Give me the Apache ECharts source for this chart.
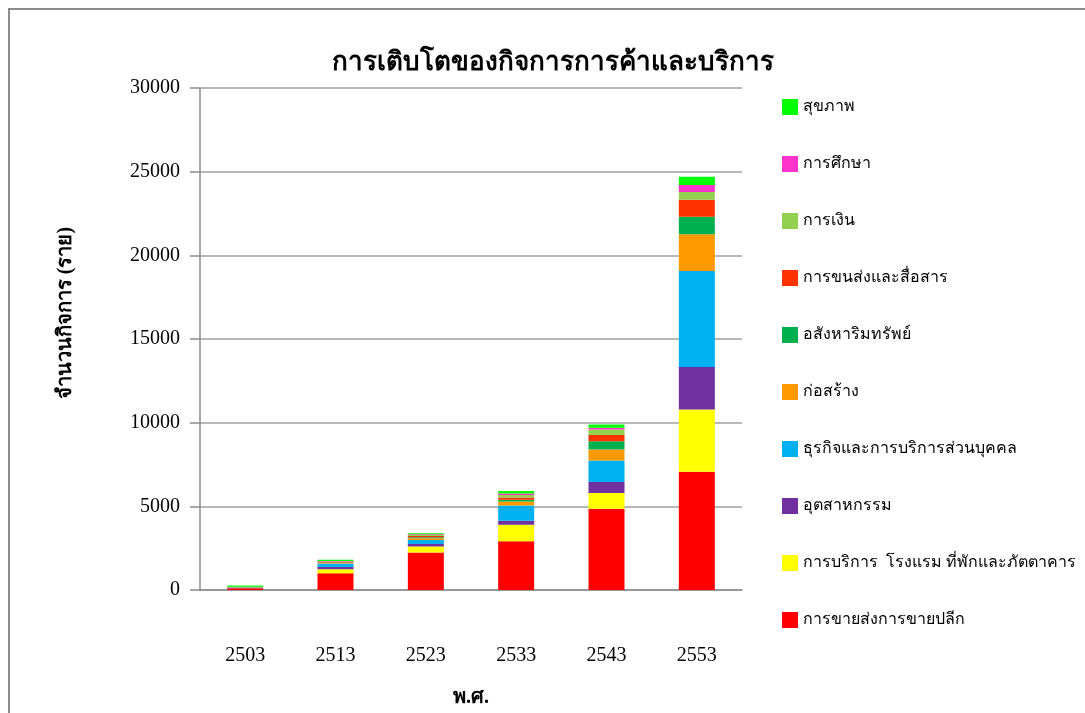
<!DOCTYPE html>
<html>
<head>
<meta charset="utf-8">
<script src="https://cdn.jsdelivr.net/npm/echarts@6/dist/echarts.min.js"></script>
<style>
  html, body { margin: 0; padding: 0; background: #fff; }
  #frame { position: absolute; left: 8px; top: 8px; width: 1090px; height: 720px; border: 2px solid #8c8c8c; box-sizing: border-box; }
  #chart { position: absolute; left: 0; top: 0; width: 1085px; height: 713px; }
</style>
</head>
<body>
<div id="frame"></div>
<div id="chart"></div>
<script>
  // ปี พ.ศ.
  const years = ['2503', '2513', '2523', '2533', '2543', '2553']

  // จำนวนกิจการ (ราย) แต่ละประเภท
  const retail = [100, 1000, 2240, 2920, 4850, 7070]
  const hotel = [10, 240, 360, 980, 950, 3720]
  const industry = [10, 140, 150, 240, 650, 2540]
  const service = [10, 200, 240, 910, 1290, 5730]
  const construction = [10, 40, 100, 240, 650, 2200]
  const realEstate = [10, 30, 60, 100, 500, 1050]
  const transport = [20, 40, 80, 140, 380, 1010]
  const finance = [10, 20, 60, 140, 320, 460]
  const education = [10, 20, 40, 100, 100, 430]
  const health = [80, 80, 60, 140, 200, 480]

  const seriesNames = [
    'การขายส่งการขายปลีก',
    'การบริการ  โรงแรม ที่พักและภัตตาคาร',
    'อุตสาหกรรม',
    'ธุรกิจและการบริการส่วนบุคคล',
    'ก่อสร้าง',
    'อสังหาริมทรัพย์',
    'การขนส่งและสื่อสาร',
    'การเงิน',
    'การศึกษา',
    'สุขภาพ'
  ]
  const seriesData = [retail, hotel, industry, service, construction, realEstate, transport, finance, education, health]
  const colors = ['#ff0000', '#ffff00', '#7030a0', '#00b0f0', '#ff9900', '#00b050', '#ff3300', '#92d050', '#ff33cc', '#00ff00']

  const serif = '"Liberation Serif", "DejaVu Serif", serif'

  let chart = echarts.init(document.getElementById('chart'))
  let option = {
    animation: false,
    color: colors,
    title: {
      text: 'การเติบโตของกิจการการค้าและบริการ',
      left: 548,
      textAlign: 'center',
      top: 45,
      textStyle: { fontSize: 26, fontWeight: 'bold', color: '#000', fontFamily: serif }
    },
    legend: {
      orient: 'vertical',
      left: 777,
      top: 94,
      itemWidth: 16,
      itemHeight: 16,
      itemGap: 41,
      icon: 'rect',
      data: seriesNames.slice().reverse(),
      textStyle: { fontSize: 16, color: '#000', fontFamily: serif }
    },
    // ชื่อแกน y วางเอง เพราะในต้นฉบับอยู่สูงกว่ากึ่งกลางเล็กน้อย
    graphic: [{
      type: 'text',
      x: 66,
      y: 313,
      rotation: Math.PI / 2,
      style: {
        text: 'จำนวนกิจการ (ราย)',
        fontSize: 20,
        fontWeight: 'bold',
        fill: '#000',
        fontFamily: serif,
        align: 'center',
        verticalAlign: 'middle'
      }
    }],
    grid: { left: 200, right: 343, top: 88, bottom: 121 },
    xAxis: {
      type: 'category',
      data: years,
      name: 'พ.ศ.',
      nameLocation: 'middle',
      nameGap: 98,
      nameTextStyle: { fontSize: 20, fontWeight: 'bold', color: '#000', fontFamily: serif },
      axisLine: { lineStyle: { color: '#8c8c8c', width: 1.5 } },
      axisTick: { length: 10, lineStyle: { color: '#8c8c8c', width: 1.5 } },
      axisLabel: { margin: 56, fontSize: 20, color: '#000', fontFamily: serif }
    },
    yAxis: {
      type: 'value',
      min: 0,
      max: 30000,
      interval: 5000,
      axisLine: { show: true, lineStyle: { color: '#8c8c8c', width: 1.5 } },
      axisTick: { show: true, length: 10, lineStyle: { color: '#8c8c8c', width: 1.5 } },
      splitLine: { lineStyle: { color: '#a0a0a0', width: 1.5 } },
      axisLabel: {
        margin: 20,
        fontSize: 20,
        color: '#000',
        fontFamily: serif,
        formatter: (v) => String(v)
      }
    },
    series: seriesNames.map((name, i) => ({
      name: name,
      type: 'bar',
      stack: 'total',
      barWidth: 36,
      data: seriesData[i]
    }))
  }
  chart.setOption(option)
  window.addEventListener('resize', () => {
    chart.resize()
  })
</script>
</body>
</html>
